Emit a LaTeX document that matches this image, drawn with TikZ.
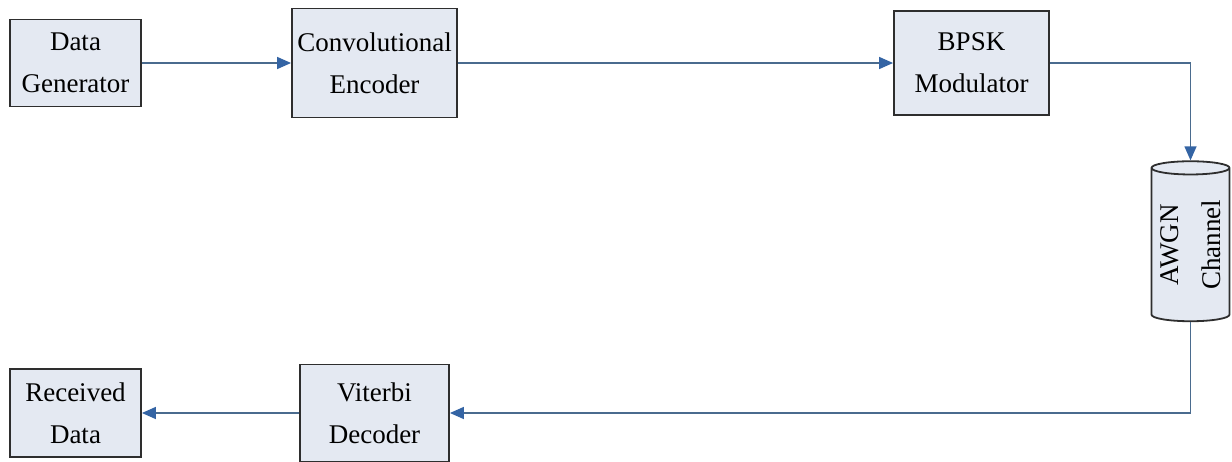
\documentclass[tikz,border=0pt]{standalone}
\usepackage{fontspec}
\setmainfont{Liberation Serif}
\usetikzlibrary{shapes.geometric,arrows.meta}
\definecolor{boxfill}{HTML}{E4E9F2}
\definecolor{boxline}{HTML}{2E2E2E}
\definecolor{wire}{HTML}{4A6B8E}
\definecolor{tip}{HTML}{3464A4}

\tikzset{
  block/.style={draw=boxline, line width=0.9pt, fill=boxfill, align=center,
    font=\fontsize{13.5}{21}\selectfont, inner sep=0pt},
  link/.style={wire, line width=0.7pt, -{Triangle[length=7pt,width=6pt,color=tip]}}
}

\begin{document}
\begin{tikzpicture}[x=0.5pt,y=-0.5pt]
\useasboundingbox (0,0) rectangle (1232,461);
\node[block, minimum width=65.5pt, minimum height=43.5pt] (gen) at (75.5,63) {Data\\Generator};
\node[block, minimum width=82.5pt, minimum height=54.5pt] (enc) at (374.5,63) {Convolutional\\Encoder};
\node[block, minimum width=77.5pt, minimum height=52pt] (mod) at (971.5,63) {BPSK\\Modulator};
\node[block, cylinder, rotate=90, aspect=0.22, minimum width=39pt, minimum height=80pt] (chan) at (1190.5,245) {AWGN\\Channel};
\node[block, minimum width=74.5pt, minimum height=48.5pt] (dec) at (374.5,413) {Viterbi\\Decoder};
\node[block, minimum width=65.5pt, minimum height=44pt] (rcv) at (75.5,413) {Received\\Data};
% connectors
\draw[link] (gen) -- (enc);
\draw[link] (enc) -- (mod);
\draw[link] (mod.east) -| (chan.top);
\draw[link] (chan.bottom) |- (dec.east);
\draw[link] (dec) -- (rcv);
\end{tikzpicture}
\end{document}
